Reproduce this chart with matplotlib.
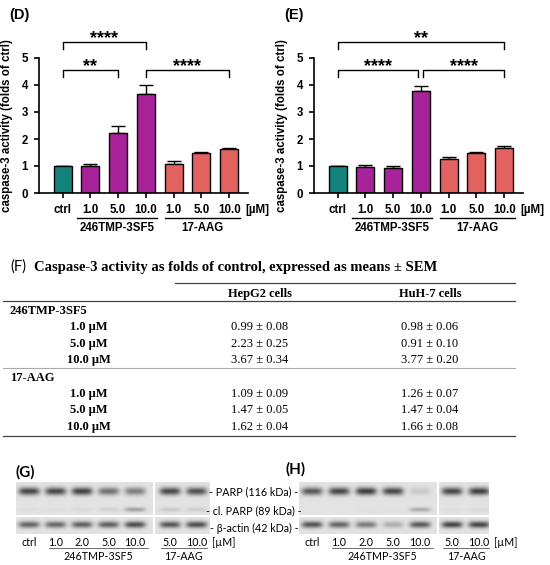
import numpy as np
import matplotlib
matplotlib.use("Agg")
import matplotlib.pyplot as plt

plt.rcParams['font.family'] = ['Liberation Sans', 'DejaVu Sans']

# ---- data ----
groups = ['ctrl', '1.0', '5.0', '10.0', '1.0', '5.0', '10.0']
hep_mean = [1.00, 0.99, 2.23, 3.67, 1.09, 1.47, 1.62]
hep_sem = [0.00, 0.08, 0.25, 0.34, 0.09, 0.05, 0.04]
huh_mean = [1.00, 0.98, 0.91, 3.77, 1.26, 1.47, 1.66]
huh_sem = [0.00, 0.06, 0.10, 0.20, 0.07, 0.04, 0.08]
bar_colors = ['#12837d', '#a8239a', '#a8239a', '#a8239a', '#e2625f', '#e2625f', '#e2625f']

# significance: (from, to, label, level)
sig_hep = [(0, 3, '****', 2), (0, 2, '**', 1), (3, 6, '****', 1)]
sig_huh = [(0, 6, '**', 2), (0, 2.91, '****', 1), (3.09, 6, '****', 1)]

row_labels = ['1.0 μM', '5.0 μM', '10.0 μM']
compounds = ['246TMP-3SF5', '17-AAG']

# western blot band intensities (0 = none, 1 = strongest), lanes:
blot_lanes = ['ctrl', '1.0', '2.0', '5.0', '10.0', '5.0', '10.0']
g_parp = [0.88, 0.88, 0.92, 0.65, 0.58, 0.88, 0.82]
g_clparp = [0.03, 0.03, 0.05, 0.10, 0.38, 0.15, 0.12]
g_actin = [0.72, 0.70, 0.74, 0.74, 0.85, 0.80, 0.85]
h_parp = [0.78, 0.88, 0.94, 0.88, 0.15, 0.88, 0.92]
h_clparp = [0.00, 0.00, 0.02, 0.02, 0.32, 0.03, 0.05]
h_actin = [0.82, 0.72, 0.60, 0.30, 0.78, 0.90, 0.90]
proteins = ['- PARP (116 kDa) -', '- cl. PARP (89 kDa) -', '- β-actin (42 kDa) -']

W, H = 550, 565
fig = plt.figure(figsize=(W / 100, H / 100), dpi=100)

# overlay axes in pixel coordinates for table / blots / labels
ov = fig.add_axes([0, 0, 1, 1])
ov.set_xlim(0, W)
ov.set_ylim(H, 0)
ov.axis('off')
ov.patch.set_alpha(0)


def bar_panel(left_px, means, sems, sigs, letter):
    ax = fig.add_axes([left_px / W, (H - 193) / H, 208.7 / W, 135 / H])
    x = np.arange(len(means))
    lower = np.zeros(len(means))
    ax.bar(x, means, width=0.65, color=bar_colors, edgecolor='black', linewidth=1.0, zorder=2)
    ax.errorbar(x, means, yerr=[lower, sems], fmt='none', ecolor='black',
                elinewidth=1.0, capsize=5, capthick=1.0, zorder=1)
    ax.set_xlim(-0.84, 6.68)
    ax.set_ylim(0, 5)
    ax.set_yticks(range(6))
    ax.set_xticks(x)
    ax.set_xticklabels(groups)
    for s in ['top', 'right']:
        ax.spines[s].set_visible(False)
    for s in ['left', 'bottom']:
        ax.spines[s].set_linewidth(1.2)
    ax.tick_params(width=1.2, length=3.5, labelsize=8.3, pad=4.5)
    for lab in ax.get_xticklabels() + ax.get_yticklabels():
        lab.set_fontweight('bold')
    ax.set_ylabel('caspase-3 activity (folds of ctrl)', fontsize=8.3, fontweight='bold')
    ax.yaxis.set_label_coords(-0.125, 0.5)
    tr = ax.get_xaxis_transform()
    ax.text(7.03, -0.127, '[µM]', transform=tr, ha='center', va='center',
            fontsize=8.3, fontweight='bold')
    for (a, b, name) in [(0.52, 3.4, compounds[0]), (3.69, 6.4, compounds[1])]:
        ax.plot([a, b], [-0.185, -0.185], transform=tr, color='black', lw=1.0, clip_on=False)
        ax.text((a + b) / 2, -0.262, name, transform=tr, ha='center', va='center',
                fontsize=8.3, fontweight='bold')
    levels = {1: 4.56, 2: 5.61}
    for (a, b, lab, lv) in sigs:
        y = levels[lv]
        ax.plot([a, a, b, b], [y - 0.27, y, y, y - 0.27], color='black', lw=1.0, clip_on=False)
        ax.text((a + b) / 2, y - 0.05, lab, ha='center', va='baseline',
                fontsize=13, fontweight='bold', clip_on=False)
    ov.text(left_px - 30, 15, letter, ha='left', va='center', fontsize=10.5, fontweight='bold')
    return ax


bar_panel(39.3, hep_mean, hep_sem, sig_hep, '(D)')
bar_panel(314.3, huh_mean, huh_sem, sig_huh, '(E)')

# ---- table (F) ----
serif = ['Liberation Serif', 'DejaVu Serif']
ov.text(10, 267, '(F)', ha='left', va='center', fontsize=10.5, family=['Lato', 'DejaVu Sans'])
ov.text(34, 267, 'Caspase-3 activity as folds of control, expressed as means ± SEM',
        ha='left', va='center', fontsize=10.5, fontweight='bold', family=serif)
ov.plot([175, 515], [283, 283], color='#444444', lw=0.9)
ov.plot([3, 515], [301, 301], color='#444444', lw=0.9)
ov.plot([3, 515], [368, 368], color='#aaaaaa', lw=0.8)
ov.plot([3, 515], [436, 436], color='#444444', lw=0.9)
col_x = [260, 430]
for cx, name in zip(col_x, ['HepG2 cells', 'HuH-7 cells']):
    ov.text(cx, 294, name, ha='center', va='center', fontsize=9, fontweight='bold', family=serif)
block_y = [(311, [327, 344, 360], 1), (378, [394, 410, 427], 4)]
for (cy, rows, start), comp in zip(block_y, compounds):
    ov.text(10, cy, comp, ha='left', va='center', fontsize=9, fontweight='bold', family=serif)
    for k, ry in enumerate(rows):
        i = start + k
        ov.text(89, ry, row_labels[k], ha='center', va='center', fontsize=9,
                fontweight='bold', family=serif)
        ov.text(col_x[0], ry, f'{hep_mean[i]:.2f} ± {hep_sem[i]:.2f}', ha='center',
                va='center', fontsize=9, family=serif)
        ov.text(col_x[1], ry, f'{huh_mean[i]:.2f} ± {huh_sem[i]:.2f}', ha='center',
                va='center', fontsize=9, family=serif)

# ---- western blots (G), (H) ----
blot_font = ['Lato', 'DejaVu Sans']
bg = 0.89


def blot_segment(lane_x, rows, x0, x1, y0, y1):
    xs = np.arange(x0, x1, 0.25)
    ys = np.arange(y0, y1, 0.25)
    X, Y = np.meshgrid(xs, ys)
    img = np.full(X.shape, bg)
    for (vals, cy, sig) in rows:
        for cx, v in lane_x:
            dark = vals[v] * np.exp(-((X - cx) / 10.5) ** 4) * np.exp(-((Y - cy) / sig) ** 2)
            img -= dark * (bg - 0.2)
    ov.imshow(np.clip(img, 0, 1), cmap='gray', vmin=0, vmax=1, aspect='auto',
              extent=(x0, x1, y1, y0), interpolation='bilinear')


def blot(x_first, step, gap, left, brk, right, parp, cl, actin, letter, lx, ly):
    lanes = [x_first + i * step + (gap if i >= 5 else 0) for i in range(7)]
    left_l = [(lanes[i], i) for i in range(5)]
    right_l = [(lanes[i], i) for i in range(5, 7)]
    for seg, a, b in [(left_l, left, brk - 1), (right_l, brk + 1, right)]:
        blot_segment(seg, [(parp, 492, 3.8), (cl, 510, 2.2)], a, b, 483, 515.5)
        blot_segment(seg, [(actin, 524.5, 3.3)], a, b, 517, 534)
    for i, lab in enumerate(blot_lanes):
        ov.text(lanes[i], 542, lab, ha='center', va='center', fontsize=7.7, family=blot_font)
    ov.text(lanes[6] + 27, 542, '[µM]', ha='center', va='center', fontsize=7.7, family=blot_font)
    for (a, b, name) in [(lanes[1] - 7, lanes[4] + 13, compounds[0]),
                         (lanes[5] - 9, lanes[6] + 10, compounds[1])]:
        ov.plot([a, b], [548, 548], color='#555555', lw=0.6)
        ov.text((a + b) / 2, 557, name, ha='center', va='center', fontsize=7.7, family=blot_font)
    ov.text(lx, ly, letter, ha='left', va='center', fontsize=11, fontweight='bold', family=blot_font)


blot(29, 26.5, 8.5, 16, 154, 210, g_parp, g_clparp, g_actin, '(G)', 16, 472)
blot(312, 27, 5, 299, 438, 489, h_parp, h_clparp, h_actin, '(H)', 286, 469)
for txt, ty in zip(proteins, [492, 511, 528]):
    ov.text(254, ty, txt, ha='center', va='center', fontsize=7.7, family=blot_font)

ov.set_xlim(0, W)
ov.set_ylim(H, 0)

fig.savefig('out.png', dpi=100)
